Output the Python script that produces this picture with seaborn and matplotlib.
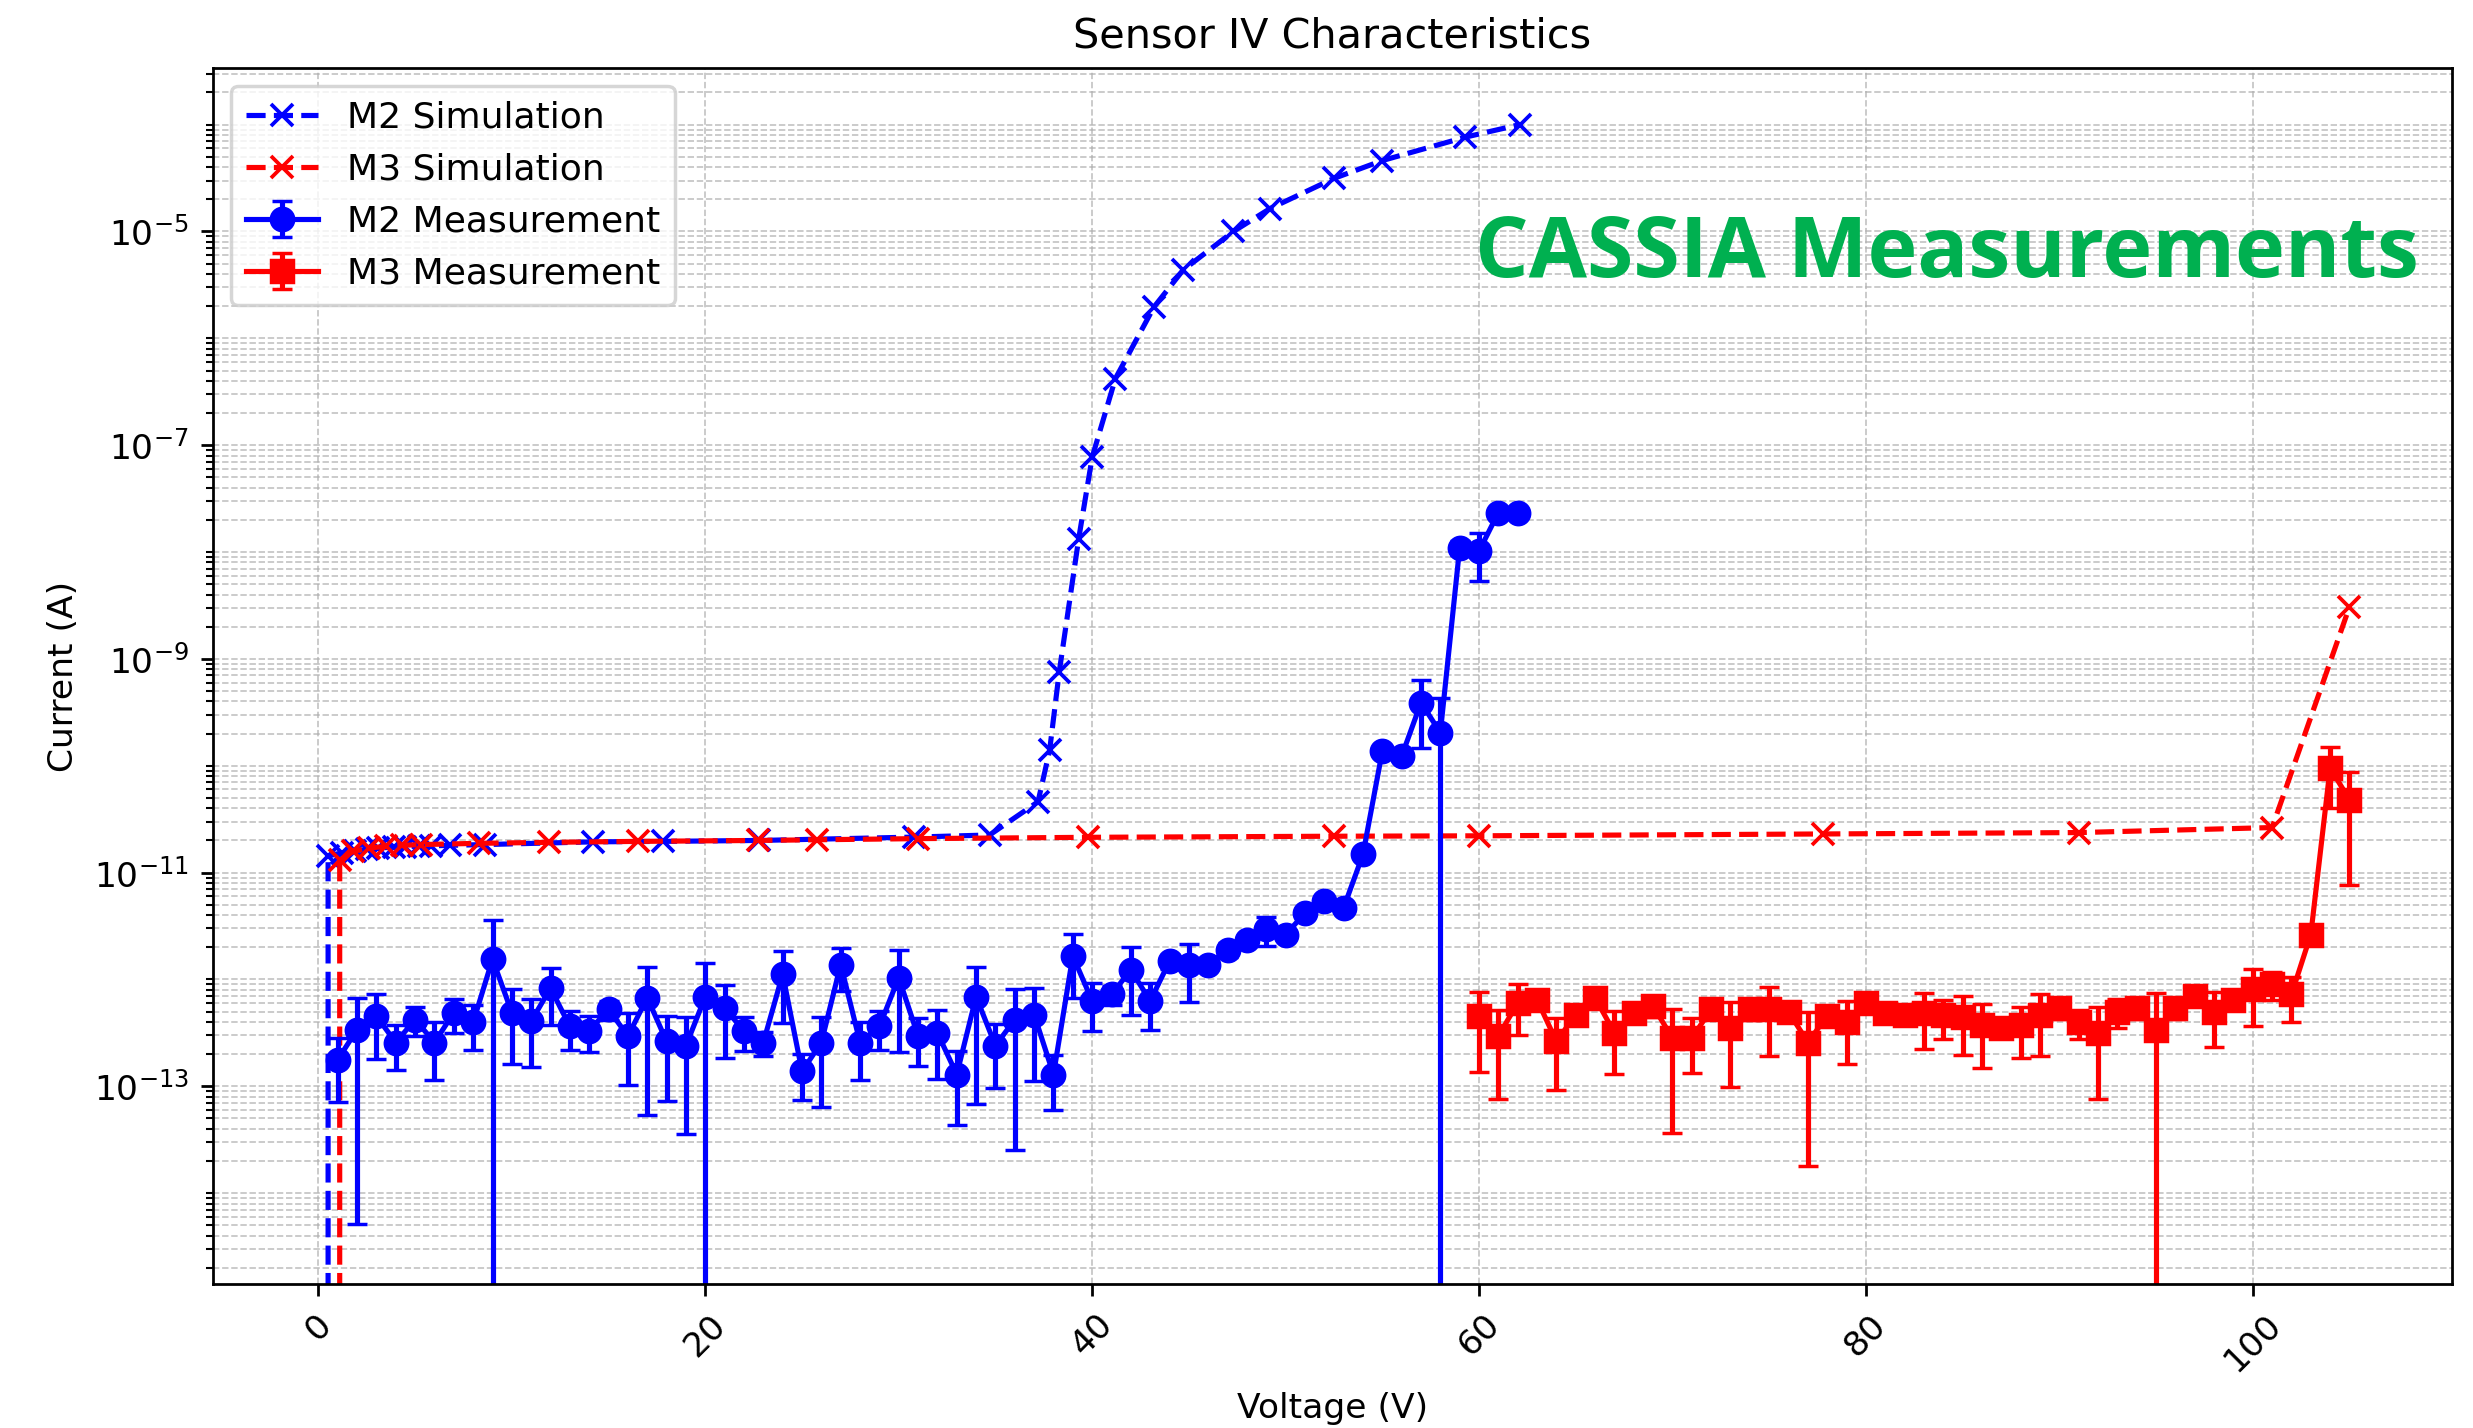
import numpy as np
import matplotlib
matplotlib.use("Agg")
import matplotlib.pyplot as plt
import seaborn as sns
from matplotlib.ticker import FixedLocator, LogLocator, NullFormatter

# --- simulation curves (voltage in V, current in A) ---
m2_sim_v = [0.5, 0.5, 1.2, 1.9, 2.5, 3.1, 3.9, 4.5, 5.2, 5.8, 6.8, 8.6, 14.2, 17.8,
            22.8, 30.8, 34.7, 37.2, 37.8, 38.3, 39.3, 40.0, 41.2, 43.2, 44.7, 47.3,
            49.2, 52.5, 55.0, 59.3, 62.1]
m2_sim_i = [1e-17, 1.43e-11, 1.53e-11, 1.60e-11, 1.65e-11, 1.70e-11, 1.73e-11, 1.75e-11,
            1.77e-11, 1.78e-11, 1.80e-11, 1.83e-11, 1.94e-11, 1.96e-11, 2.00e-11,
            2.15e-11, 2.25e-11, 4.6e-11, 1.39e-10, 7.6e-10, 1.32e-8, 7.7e-8, 4.2e-7,
            1.97e-6, 4.35e-6, 1.0e-5, 1.64e-5, 3.14e-5, 4.61e-5, 7.64e-5, 1.0e-4]

m3_sim_v = [1.1, 1.1, 1.8, 2.6, 3.5, 4.3, 5.3, 8.3, 11.9, 16.5, 22.7, 25.8, 31.0, 39.8,
            52.5, 60.0, 77.8, 91.0, 101.0, 105.0]
m3_sim_i = [1e-17, 1.32e-11, 1.58e-11, 1.70e-11, 1.76e-11, 1.80e-11, 1.83e-11, 1.88e-11,
            1.92e-11, 1.96e-11, 2.00e-11, 2.03e-11, 2.08e-11, 2.14e-11, 2.19e-11,
            2.21e-11, 2.30e-11, 2.37e-11, 2.64e-11, 3.07e-9]

# --- measurements ---
m2_meas_v = list(range(1, 63))
m2_meas_i = [1.78e-13, 3.40e-13, 4.53e-13, 2.57e-13, 4.22e-13, 2.57e-13, 4.90e-13, 3.98e-13,
             1.55e-12, 4.90e-13, 4.07e-13, 8.30e-13, 3.63e-13, 3.31e-13, 5.25e-13, 2.95e-13,
             6.76e-13, 2.63e-13, 2.40e-13, 6.90e-13, 5.37e-13, 3.31e-13, 2.57e-13, 1.12e-12,
             1.38e-13, 2.57e-13, 1.38e-12, 2.57e-13, 3.63e-13, 1.04e-12, 2.95e-13, 3.16e-13,
             1.29e-13, 6.90e-13, 2.40e-13, 4.22e-13, 4.68e-13, 1.29e-13, 1.66e-12, 6.30e-13,
             7.24e-13, 1.23e-12, 6.30e-13, 1.48e-12, 1.38e-12, 1.38e-12, 1.90e-12, 2.34e-12,
             2.95e-12, 2.63e-12, 4.17e-12, 5.37e-12, 4.68e-12, 1.48e-11, 1.37e-10, 1.23e-10,
             3.90e-10, 2.04e-10, 1.10e-8, 1.02e-8, 2.34e-8, 2.34e-8]
# relative error (sigma / I)
m2_rel_err = [0.6, 0.985, 0.6, 0.45, 0.3, 0.55, 0.35, 0.45, 1.3, 0.67, 0.63, 0.55, 0.4,
              0.37, 0.2, 0.65, 0.92, 0.72, 0.85, 1.05, 0.66, 0.35, 0.25, 0.65, 0.46, 0.75,
              0.43, 0.55, 0.4, 0.8, 0.48, 0.63, 0.66, 0.9, 0.6, 0.94, 0.76, 0.53, 0.6, 0.48,
              0.2, 0.62, 0.46, 0.15, 0.55, 0.1, 0.15, 0.1, 0.3, 0.1, 0.1, 0.1, 0.1, 0.1,
              0.1, 0.1, 0.62, 1.1, 0.15, 0.48, 0.05, 0.05]

m3_meas_v = list(range(60, 106))
m3_meas_i = [4.53e-13, 2.95e-13, 6.03e-13, 6.46e-13, 2.63e-13, 4.68e-13, 6.76e-13, 3.16e-13,
             4.90e-13, 5.62e-13, 2.82e-13, 2.82e-13, 5.25e-13, 3.55e-13, 5.25e-13, 5.25e-13,
             5.01e-13, 2.57e-13, 4.57e-13, 3.98e-13, 6.03e-13, 4.90e-13, 4.68e-13, 4.90e-13,
             4.62e-13, 4.47e-13, 3.72e-13, 3.55e-13, 3.72e-13, 4.62e-13, 5.37e-13, 3.98e-13,
             3.16e-13, 5.01e-13, 5.37e-13, 3.39e-13, 5.37e-13, 7.00e-13, 5.01e-13, 6.46e-13,
             8.13e-13, 9.12e-13, 7.24e-13, 2.63e-12, 9.55e-11, 4.79e-11]
m3_rel_err = [0.7, 0.74, 0.5, 0.15, 0.65, 0.15, 0.15, 0.59, 0.2, 0.2, 0.87, 0.53, 0.15,
              0.72, 0.2, 0.63, 0.15, 0.93, 0.15, 0.59, 0.15, 0.2, 0.2, 0.54, 0.4, 0.56,
              0.6, 0.2, 0.5, 0.58, 0.2, 0.3, 0.76, 0.3, 0.2, 1.2, 0.2, 0.2, 0.53, 0.2,
              0.55, 0.3, 0.45, 0.15, 0.58, 0.84]

W, H, DPI = 2473, 1428, 248
fig, ax = plt.subplots(figsize=(W / DPI, H / DPI), dpi=DPI)
fig.subplots_adjust(left=213 / W, right=2452 / W, top=1 - 68 / H, bottom=1 - 1284 / H)

sns.lineplot(x=m2_sim_v, y=m2_sim_i, ax=ax, sort=False, estimator=None,
             color='blue', linestyle='--', marker='x', markersize=6.5,
             markeredgecolor='blue', markeredgewidth=1.1, label='M2 Simulation')
sns.lineplot(x=m3_sim_v, y=m3_sim_i, ax=ax, sort=False, estimator=None,
             color='red', linestyle='--', marker='x', markersize=6.5,
             markeredgecolor='red', markeredgewidth=1.1, label='M3 Simulation')

m2_err = np.array(m2_meas_i) * np.array(m2_rel_err)
m3_err = np.array(m3_meas_i) * np.array(m3_rel_err)
ax.errorbar(m2_meas_v, m2_meas_i, yerr=m2_err, fmt='-o', color='blue', ms=6.5,
            capsize=3, lw=1.5, label='M2 Measurement')
ax.errorbar(m3_meas_v, m3_meas_i, yerr=m3_err, fmt='-s', color='red', ms=6.5,
            capsize=3, lw=1.5, label='M3 Measurement')

ax.set_yscale('log')
ax.set_xlim(-5.45, 110.3)
ax.set_ylim(10 ** -14.85, 10 ** -3.47)
ax.yaxis.set_major_locator(FixedLocator([1e-13, 1e-11, 1e-9, 1e-7, 1e-5]))
ax.yaxis.set_minor_locator(LogLocator(base=10, subs=np.arange(1, 10), numticks=100))
ax.yaxis.set_minor_formatter(NullFormatter())
ax.set_xticks([0, 20, 40, 60, 80, 100])
plt.setp(ax.get_xticklabels(), rotation=45)

ax.grid(True, which='both', ls='--', lw=0.5, alpha=0.75)
ax.set_title('Sensor IV Characteristics')
ax.set_xlabel('Voltage (V)')
ax.set_ylabel('Current (A)')
ax.legend(loc='upper left', fontsize=10.5)

ax.text(0.985, 0.846, 'CASSIA Measurements', transform=ax.transAxes,
        ha='right', va='center', color='#00B050', fontsize=24.5,
        fontweight='bold', family='Open Sans')

fig.savefig('out.png', dpi=DPI)
